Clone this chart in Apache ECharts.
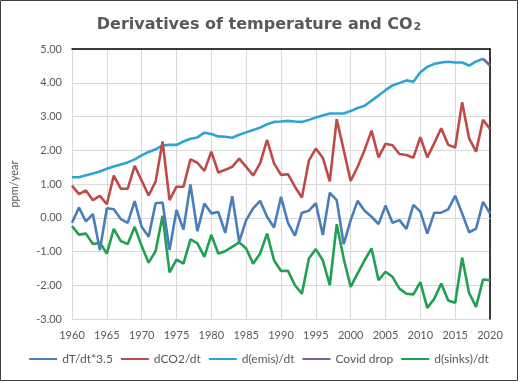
<!DOCTYPE html>
<html><head><meta charset="utf-8">
<style>html,body{margin:0;padding:0;background:#fff}#c{width:518px;height:381px}</style>
<script src="https://cdn.jsdelivr.net/npm/echarts@6/dist/echarts.min.js"></script>
</head><body><div id="c"></div>
<script>
const years = [];
for (let y = 1960; y <= 2020; y++) years.push(y);
const seriesNames = ['dT/dt*3.5', 'dCO2/dt', 'd(emis)/dt', 'Covid drop', 'd(sinks)/dt'];
const dTdt = [-0.15,0.30,-0.11,0.11,-0.96,0.28,0.25,-0.04,-0.15,0.49,
  -0.27,-0.56,0.43,0.45,-0.96,0.23,-0.35,0.99,-0.40,0.42,
  0.13,0.17,-0.45,0.64,-0.71,-0.07,0.28,0.50,0.03,-0.29,
  0.62,-0.15,-0.53,0.15,0.21,0.43,-0.51,0.74,0.52,-0.78,
  -0.07,0.50,0.21,0.03,-0.19,0.36,-0.15,-0.07,-0.33,0.38,
  0.18,-0.47,0.15,0.15,0.25,0.65,0.13,-0.43,-0.32,0.47,0.13];
const dCO2dt = [0.95,0.70,0.81,0.52,0.65,0.40,1.25,0.86,0.86,1.54,
  1.10,0.66,1.07,2.26,0.52,0.92,0.92,1.73,1.63,1.39,
  1.96,1.34,1.42,1.51,1.75,1.51,1.25,1.61,2.31,1.61,
  1.27,1.29,0.92,0.60,1.69,2.05,1.78,1.08,2.92,2.01,
  1.09,1.51,2.01,2.58,1.79,2.19,2.15,1.89,1.86,1.78,
  2.39,1.79,2.21,2.65,2.16,2.08,3.42,2.35,1.96,2.90,2.63];
const demisdt = [1.20,1.20,1.26,1.31,1.37,1.45,1.52,1.58,1.64,1.73,
  1.85,1.95,2.03,2.14,2.16,2.16,2.26,2.34,2.38,2.52,
  2.48,2.41,2.40,2.37,2.46,2.53,2.60,2.67,2.77,2.84,
  2.85,2.87,2.85,2.84,2.90,2.97,3.03,3.09,3.09,3.09,
  3.16,3.25,3.32,3.47,3.62,3.78,3.92,3.99,4.07,4.03,
  4.31,4.47,4.56,4.60,4.62,4.60,4.60,4.51,4.63,4.71,null];
const covidDrop = [4.71, 4.51];
const covidYears = [2019, 2020];
const dsinksdt = [-0.25,-0.50,-0.47,-0.78,-0.74,-1.06,-0.33,-0.69,-0.78,-0.27,
  -0.84,-1.33,-0.99,0.06,-1.62,-1.24,-1.36,-0.64,-0.76,-1.16,
  -0.51,-1.06,-0.99,-0.86,-0.73,-0.91,-1.36,-1.06,-0.47,-1.26,
  -1.58,-1.57,-2.00,-2.25,-1.21,-0.93,-1.26,-2.00,-0.19,-1.21,
  -2.05,-1.65,-1.26,-0.91,-1.85,-1.60,-1.75,-2.10,-2.25,-2.27,
  -1.91,-2.67,-2.40,-1.95,-2.45,-2.52,-1.18,-2.23,-2.64,-1.83,-1.85];
const colors = ['#4A7EBB', '#BE4B48', '#2DA5D4', '#7D60A0', '#22A052'];

const pair = (xs, vs) => xs.map((x, i) => [x, vs[i]]);
const txt = '#595959';
const font = 'Lato, "Open Sans", sans-serif';
const mk = (name, data, color, z) => ({
  name, type: 'line', data, showSymbol: false, symbol: 'none', z,
  lineStyle: { color, width: 2.6 }, itemStyle: { color }, animation: false
});

const chart = echarts.init(document.getElementById('c'), null, { renderer: 'canvas' });
chart.setOption({
  animation: false,
  color: colors,
  title: {
    text: '{a|Derivatives of temperature and CO}{s|2}',
    left: 'center', top: 11,
    textStyle: {
      rich: {
        a: { fontFamily: '"DejaVu Sans", sans-serif', fontWeight: 'bold', fontSize: 16, color: txt },
        s: { fontFamily: '"DejaVu Sans", sans-serif', fontSize: 11, color: txt, verticalAlign: 'bottom', padding: [6, 0, 0, 1] }
      }
    }
  },
  grid: { left: 72, right: 28, top: 49, bottom: 62 },
  legend: {
    bottom: 11, left: 'center', itemWidth: 28, itemHeight: 2, itemGap: 8,
    icon: 'rect',
    textStyle: { color: txt, fontSize: 12, fontFamily: font },
    data: seriesNames
  },
  xAxis: [{
    type: 'value', min: 1960, max: 2020, interval: 5,
    axisLine: { show: true, lineStyle: { color: '#D9D9D9' } },
    axisTick: { show: false },
    axisLabel: { color: txt, fontSize: 11, fontFamily: font, margin: 11, formatter: v => String(v) },
    splitLine: { show: true, lineStyle: { color: '#D9D9D9' } }
  }, {
    type: 'value', min: 1960, max: 2020, position: 'top',
    axisLine: { show: true, onZero: false, lineStyle: { color: '#000', width: 1.5 } },
    axisTick: { show: false }, axisLabel: { show: false }, splitLine: { show: false }
  }],
  yAxis: [{
    type: 'value', min: -3, max: 5, interval: 1,
    name: 'ppm/year', nameLocation: 'middle', nameGap: 52, nameRotate: 90,
    nameTextStyle: { color: txt, fontSize: 11, fontFamily: font },
    axisLine: { show: true, onZero: false, lineStyle: { color: '#D9D9D9' } },
    axisTick: { show: false },
    axisLabel: { color: txt, fontSize: 11, fontFamily: font, margin: 10, formatter: v => v.toFixed(2) },
    splitLine: { show: true, lineStyle: { color: '#D9D9D9' } }
  }, {
    type: 'value', min: -3, max: 5, position: 'right',
    axisLine: { show: true, onZero: false, lineStyle: { color: '#000', width: 1.5 } },
    axisTick: { show: false }, axisLabel: { show: false }, splitLine: { show: false }
  }],
  graphic: [{
    type: 'rect', silent: true, z: 100,
    shape: { x: 0.5, y: 0.5, width: 517, height: 380 },
    style: { fill: 'none', stroke: '#404040', lineWidth: 1 }
  }],
  series: [
    mk(seriesNames[0], pair(years, dTdt), colors[0], 5),
    mk(seriesNames[1], pair(years, dCO2dt), colors[1], 4),
    mk(seriesNames[2], pair(years, demisdt), colors[2], 3),
    mk(seriesNames[3], pair(covidYears, covidDrop), colors[3], 6),
    mk(seriesNames[4], pair(years, dsinksdt), colors[4], 2)
  ]
});
</script></body></html>
